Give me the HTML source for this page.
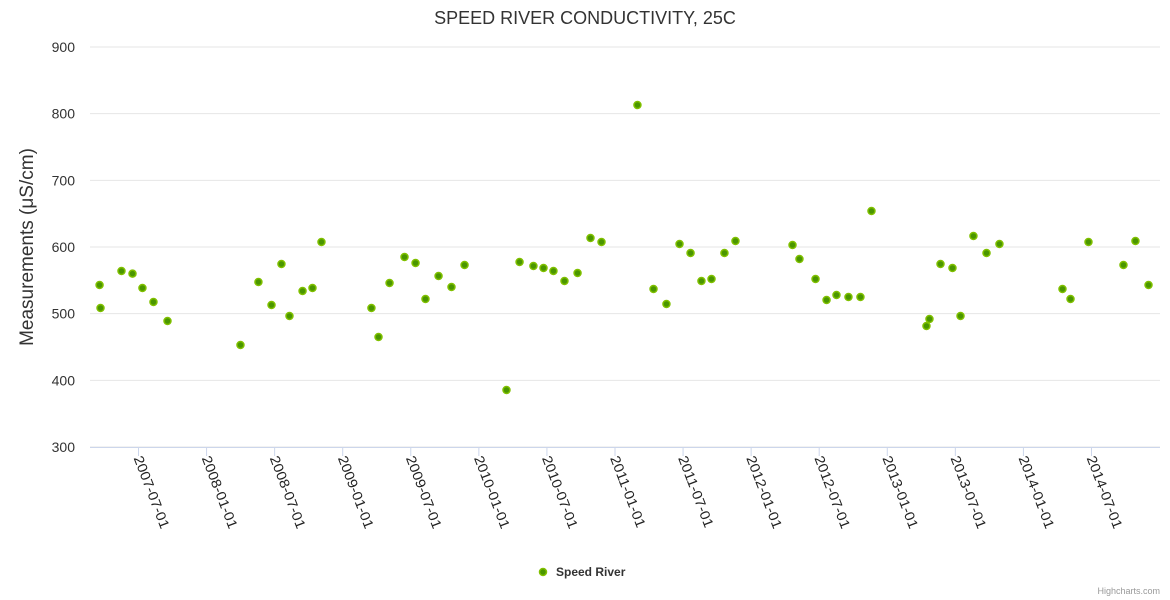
<!DOCTYPE html>
<html><head><meta charset="utf-8">
<style>
html,body{margin:0;padding:0;background:#fff;}
svg{display:block;font-family:"Liberation Sans",sans-serif;}
</style></head>
<body>
<svg id="chart" width="1170" height="600" viewBox="0 0 1170 600">
<rect width="1170" height="600" fill="#fff"/>
<text x="585" y="24" text-anchor="middle" font-size="18" fill="#333">SPEED RIVER CONDUCTIVITY, 25C</text>
<text transform="translate(33,247) rotate(-90)" text-anchor="middle" font-size="19" fill="#333">Measurements (μS/cm)</text>
<g id="grid"></g><g id="xaxis"></g><g id="points"></g>
<g>
<circle cx="543" cy="572" r="3.5" fill="#4a9600" stroke="#80c000" stroke-width="1.5"/>
<text x="556" y="576" font-size="12" font-weight="bold" fill="#333">Speed River</text>
</g>
<text x="1160" y="594" text-anchor="end" font-size="9" fill="#999">Highcharts.com</text>
</svg>
<script>
const dates=[2007.214,2007.221,2007.375,2007.456,2007.529,2007.610,2007.713,2008.249,2008.381,2008.477,2008.550,2008.609,2008.705,2008.778,2008.844,2009.211,2009.263,2009.344,2009.454,2009.535,2009.608,2009.704,2009.799,2009.895,2010.203,2010.299,2010.401,2010.475,2010.548,2010.629,2010.725,2010.820,2010.901,2011.165,2011.283,2011.378,2011.474,2011.555,2011.635,2011.709,2011.804,2011.885,2012.304,2012.355,2012.473,2012.554,2012.627,2012.715,2012.803,2012.884,2013.288,2013.310,2013.391,2013.479,2013.538,2013.633,2013.729,2013.824,2014.287,2014.346,2014.478,2014.735,2014.823,2014.919];
const values=[543,508.5,564,560,538.5,517.5,489,453,547.5,513,574.5,496.5,534,538.5,607.5,508.5,465,546,585,576,522,556.5,540,573,385.5,577.5,571.5,568.5,564,549,561,613.5,607.5,813,537,514.5,604.5,591,549,552,591,609,603,582,552,520.5,528,525,525,654,481.5,492,574.5,568.5,496.5,616.5,591,604.5,537,522,607.5,573,609,543];
const yTicks=[300,400,500,600,700,800,900];
const xTickVals=[2007.5,2008,2008.5,2009,2009.5,2010,2010.5,2011,2011.5,2012,2012.5,2013,2013.5,2014,2014.5];
const xTickLabels=["2007-07-01","2008-01-01","2008-07-01","2009-01-01","2009-07-01","2010-01-01","2010-07-01","2011-01-01","2011-07-01","2012-01-01","2012-07-01","2013-01-01","2013-07-01","2014-01-01","2014-07-01"];
const NS="http://www.w3.org/2000/svg";
const X0=90,X1=1160,Y0=447,Y1=47;
function xs(v){return 138.5+(v-2007.5)*136.14;}
function ys(v){return Y0-(v-300)/600*(Y0-Y1);}
function mk(t,a,p){const e=document.createElementNS(NS,t);for(const k in a)e.setAttribute(k,a[k]);p.appendChild(e);return e;}
const grid=document.getElementById('grid');
yTicks.forEach(v=>{
 const l=mk('line',{x1:X0,x2:X1,y1:ys(v),y2:ys(v),stroke:'#e6e6e6','stroke-width':1},grid);
 
 
 const t=mk('text',{x:75,y:ys(v)+5,'text-anchor':'end','font-size':14,fill:'#333'},grid);
 t.textContent=v;
 
 
});
const xa=document.getElementById('xaxis');
const al=mk('line',{x1:X0,x2:X1,y1:Y0+0.5,y2:Y0+0.5,stroke:'#ccd6eb','stroke-width':1},xa);


xTickVals.forEach((v,i)=>{
 const x=xs(v);
 const tk=mk('line',{x1:x,x2:x,y1:Y0,y2:Y0+9,stroke:'#ccd6eb','stroke-width':1},xa);
 
 
 const t=mk('text',{transform:`translate(${x-5},${Y0+11}) rotate(69) scale(1,0.92)`,'font-size':15,fill:'#222'},xa);
 t.textContent=xTickLabels[i];
 
 
});
const pg=document.getElementById('points');
dates.forEach((d,i)=>{
 const c=mk('circle',{cx:xs(d),cy:ys(values[i]),r:3.5,fill:'#4a9600',stroke:'#80c000','stroke-width':1.5},pg);
 
 
});
</script>
</body></html>
